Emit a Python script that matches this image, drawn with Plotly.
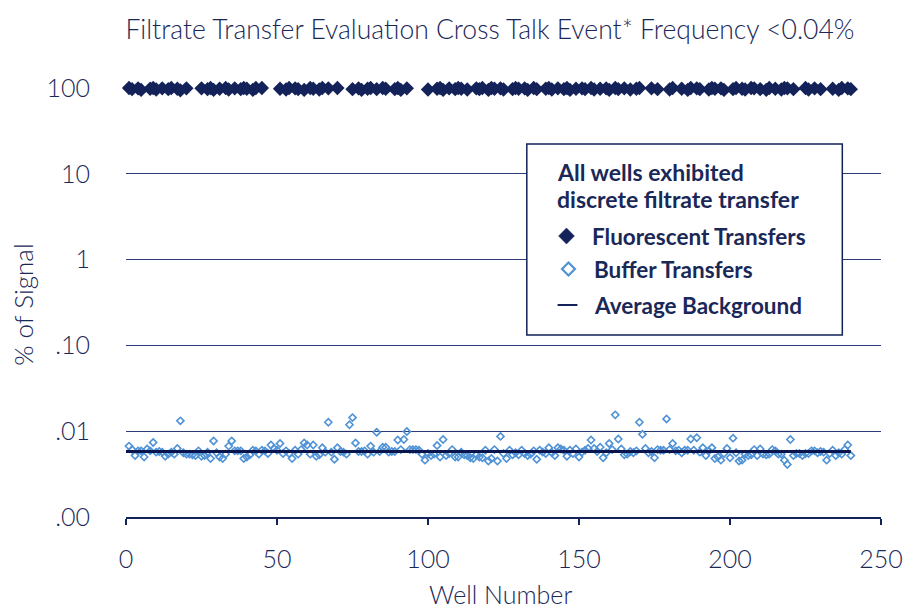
import plotly.graph_objects as go

# ---------------- data ----------------
fluor_wells = (list(range(1, 22)) + list(range(25, 44)) + [45] + list(range(51, 68)) + [70]
               + list(range(74, 84)) + [85, 86] + list(range(88, 94)) + list(range(100, 172))
               + [174, 175, 176] + [179, 180, 181] + list(range(184, 223))
               + list(range(225, 232)) + list(range(234, 241)))
fluor_values = [
    100, 97, 103, 99, 95, 101, 104, 98, 100, 96, 102, 99, 105, 97, 100, 103, 98, 94, 101, 99, 102,
    99, 103, 97, 100, 95, 102, 98, 104, 100, 96, 101, 99, 103, 97, 100, 98, 102, 95, 100,
    100,
    98, 102, 96, 100, 104, 99, 97, 101, 95, 103, 100, 98, 102, 96, 100, 104, 99,
    100,
    101, 97, 103, 99, 95, 102, 98, 100, 104, 97,
    100, 98,
    102, 97, 100, 95, 103, 99,
    96, 101, 104, 98, 100, 95, 102, 99, 103, 97,
    100, 98, 102, 96, 101, 104, 99, 97, 100, 103,
    95, 100, 98, 102, 99, 96, 101, 104, 97, 100,
    98, 103, 99, 95, 102, 100, 97, 101, 104, 98,
    100, 96, 102, 99, 103, 97, 100, 95, 101, 98,
    104, 99, 97, 102, 100, 96, 103, 98, 101, 99,
    95, 102, 100, 97, 104, 99, 101, 96, 103, 98,
    100, 102,
    99, 103, 97,
    101, 96, 100,
    98, 102, 95, 100, 104, 99, 97, 101, 103, 96,
    100, 98, 102, 99, 95, 101, 104, 97, 100, 103,
    98, 96, 102, 100, 99, 104, 97, 101, 95, 100,
    103, 98, 102, 96, 100, 99, 104, 97, 101,
    100, 96, 103, 99, 101, 97, 102,
    98, 101, 95, 100, 103, 99, 97,
]

buffer_wells = list(range(1, 241))
buffer_values = [
    0.0067, 0.0061, 0.0052, 0.0059, 0.0059, 0.0050, 0.0062, 0.0059, 0.0074, 0.0057,
    0.0058, 0.0057, 0.0051, 0.0054, 0.0057, 0.0054, 0.0063, 0.0132, 0.0056, 0.0054,
    0.0054, 0.0053, 0.0052, 0.0059, 0.0051, 0.0052, 0.0057, 0.0048, 0.0077, 0.0056,
    0.0050, 0.0048, 0.0054, 0.0067, 0.0077, 0.0059, 0.0059, 0.0059, 0.0048,
    0.0050, 0.0053, 0.0060, 0.0059, 0.0054, 0.0060, 0.0059, 0.0055, 0.0069, 0.0063,
    0.0060, 0.0072, 0.0055, 0.0059, 0.0055, 0.0048, 0.0060, 0.0054, 0.0061, 0.0073,
    0.0069, 0.0054, 0.0069, 0.0051, 0.0053, 0.0064, 0.0057, 0.0127, 0.0057, 0.0047,
    0.0064, 0.0058, 0.0057, 0.0054, 0.0119, 0.0144, 0.0073, 0.0058, 0.0058,
    0.0059, 0.0054, 0.0067, 0.0057, 0.0097, 0.0058, 0.0065, 0.0065, 0.0057, 0.0058,
    0.0058, 0.0079, 0.0061, 0.0080, 0.0099, 0.0061, 0.0061, 0.0061, 0.0060,
    0.0054, 0.0046, 0.0055, 0.0052, 0.0054, 0.0068, 0.0050, 0.0080, 0.0052, 0.0055,
    0.0061, 0.0050, 0.0050, 0.0057, 0.0053, 0.0052, 0.0049, 0.0048, 0.0053, 0.0050,
    0.0049, 0.0060, 0.0045, 0.0048, 0.0061, 0.0045, 0.0087, 0.0055, 0.0048, 0.0060,
    0.0053, 0.0056, 0.0053, 0.0060, 0.0055, 0.0052, 0.0054, 0.0059, 0.0047, 0.0060,
    0.0057, 0.0055, 0.0064, 0.0056, 0.0052, 0.0064, 0.0062, 0.0060, 0.0051, 0.0060,
    0.0055, 0.0062, 0.0050, 0.0057, 0.0060, 0.0063, 0.0079, 0.0063, 0.0058, 0.0065,
    0.0049, 0.0056, 0.0072, 0.0061, 0.0155, 0.0081, 0.0062, 0.0053, 0.0054, 0.0058,
    0.0056, 0.0059, 0.0127, 0.0092, 0.0063, 0.0056, 0.0058, 0.0049, 0.0061, 0.0060,
    0.0060, 0.0139, 0.0061, 0.0072, 0.0059, 0.0060, 0.0056, 0.0060, 0.0060, 0.0081,
    0.0060, 0.0084,
    0.0057, 0.0064, 0.0052, 0.0059, 0.0064, 0.0048, 0.0050, 0.0046, 0.0055, 0.0063,
    0.0049, 0.0083, 0.0056, 0.0045, 0.0046, 0.0054, 0.0052, 0.0053, 0.0061, 0.0052,
    0.0062, 0.0054, 0.0053, 0.0054, 0.0061, 0.0059, 0.0054, 0.0054, 0.0046, 0.0041,
    0.0080, 0.0052, 0.0055, 0.0055, 0.0052, 0.0055, 0.0055, 0.0059, 0.0059, 0.0056,
    0.0058, 0.0057, 0.0046, 0.0055, 0.0060, 0.0052, 0.0056, 0.0054, 0.0061, 0.0069,
    0.0052,
]

avg_background_wells = [0, 240]
avg_background_value = 0.0058

y_tickvals = [0.001, 0.01, 0.1, 1, 10, 100]
y_ticktext = [".00", ".01", ".10", "1", "10", "100"]
x_tickvals = [0, 50, 100, 150, 200, 250]

title_text = "Filtrate Transfer Evaluation Cross Talk Event* Frequency &lt;0.04%"
legend_title = ["All wells exhibited", "discrete filtrate transfer"]
legend_labels = ["Fluorescent Transfers", "Buffer Transfers", "Average Background"]

assert len(fluor_wells) == len(fluor_values)
assert len(buffer_wells) == len(buffer_values)

# ---------------- style ----------------
NAVY = "#132259"
TEXT = "#1a2858"
LIGHT = "#4f92d6"
FONT = "Lato"
W, H = 915, 609
L, R, T, B = 126, 887, 88, 517


def px(p):
    return (p - L) / (R - L)


def py(p):
    return (B - p) / (B - T)


def lfont(size):
    return dict(family=FONT, size=size, color=TEXT, weight=300)


fig = go.Figure()

fig.add_trace(go.Scatter(
    x=buffer_wells, y=buffer_values, mode="markers", cliponaxis=False,
    marker=dict(symbol="diamond-open", size=5.5, color=LIGHT, line=dict(color=LIGHT, width=1.6)),
    showlegend=False))

fig.add_trace(go.Scatter(
    x=avg_background_wells, y=[avg_background_value] * 2, mode="lines",
    line=dict(color="#0a154d", width=3), showlegend=False, hoverinfo="skip"))

fig.add_trace(go.Scatter(
    x=fluor_wells, y=fluor_values, mode="markers", cliponaxis=False,
    marker=dict(symbol="diamond", size=11, color=NAVY, line=dict(width=0)),
    showlegend=False))

# legend box
shapes = [dict(type="rect", xref="paper", yref="paper", x0=px(530), x1=px(848),
               y0=py(335), y1=py(144), line=dict(color=NAVY, width=1.5),
               fillcolor="white", layer="above")]


def diamond_path(cx, cy, hw, hh):
    return (f"M {px(cx)},{py(cy - hh)} L {px(cx + hw)},{py(cy)} "
            f"L {px(cx)},{py(cy + hh)} L {px(cx - hw)},{py(cy)} Z")


shapes.append(dict(type="path", xref="paper", yref="paper", path=diamond_path(570, 236, 8, 8),
                   fillcolor=NAVY, line=dict(color=NAVY, width=0.5), layer="above"))
shapes.append(dict(type="path", xref="paper", yref="paper", path=diamond_path(572, 269, 6.5, 6.5),
                   fillcolor="white", line=dict(color=LIGHT, width=2.2), layer="above"))
shapes.append(dict(type="line", xref="paper", yref="paper", x0=px(561), x1=px(581),
                   y0=py(305), y1=py(305), line=dict(color=NAVY, width=2), layer="above"))

annotations = []
for txt, yy in zip(legend_title, [172, 199]):
    annotations.append(dict(xref="paper", yref="paper", x=px(558), y=py(yy), xanchor="left",
                            yanchor="middle", showarrow=False, text=f"<b>{txt}</b>",
                            font=dict(family=FONT, size=23, color=TEXT)))
for txt, xx, yy in zip(legend_labels, [594, 596, 596], [236, 269, 305]):
    annotations.append(dict(xref="paper", yref="paper", x=px(xx), y=py(yy), xanchor="left",
                            yanchor="middle", showarrow=False, text=f"<b>{txt}</b>",
                            font=dict(family=FONT, size=22.5, color=TEXT)))
# axis titles
annotations.append(dict(xref="paper", yref="paper", x=px(503), y=py(594), xanchor="center",
                        yanchor="middle", showarrow=False, text="Well Number",
                        font=lfont(25)))
annotations.append(dict(xref="paper", yref="paper", x=px(22), y=py(305), xanchor="center",
                        yanchor="middle", showarrow=False, text="% of Signal", textangle=-90,
                        font=lfont(26)))

fig.update_layout(
    width=W, height=H,
    margin=dict(l=L, r=W - R, t=T, b=H - B, pad=0),
    paper_bgcolor="white", plot_bgcolor="white",
    font=dict(family=FONT, color=TEXT),
    title=dict(text=title_text, x=490 / W, xanchor="center", xref="container",
               y=1 - 30 / H, yanchor="middle", yref="container",
               font=lfont(26.5)),
    xaxis=dict(range=[0, 250], tickvals=x_tickvals, showgrid=False, zeroline=False,
               showline=True, linecolor=NAVY, linewidth=1.5, ticks="outside", ticklen=6,
               tickcolor=NAVY, tickwidth=1.5, tickfont=lfont(25),
               ticklabelstandoff=13),
    yaxis=dict(type="log", range=[-3, 2], tickvals=y_tickvals, ticktext=y_ticktext,
               showgrid=True, gridcolor="#2e3d75", gridwidth=1, zeroline=False,
               showline=False, ticks="outside", ticklen=30, tickcolor="rgba(0,0,0,0)",
               tickfont=lfont(25)),
    shapes=shapes, annotations=annotations, showlegend=False,
)

fig.write_html("out.html", config={"displayModeBar": False},
               post_script="document.body.style.margin='0';")
